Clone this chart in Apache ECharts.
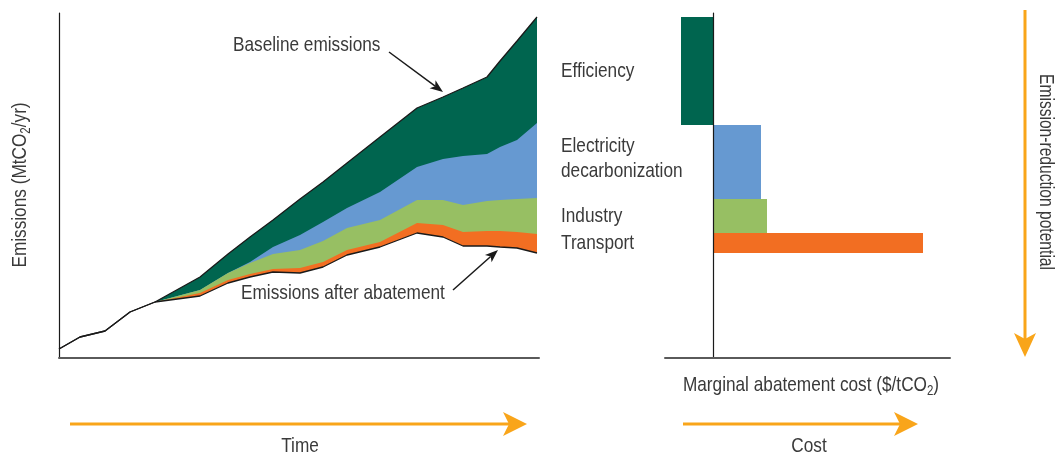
<!DOCTYPE html>
<html>
<head>
<meta charset="utf-8">
<script src="https://cdn.jsdelivr.net/npm/echarts@6/dist/echarts.min.js"></script>
<style>
  html, body { margin: 0; padding: 0; background: #fff; }
  #main { width: 1059px; height: 455px; }
</style>
</head>
<body>
<div id="main"></div>
<script>
// ---- left panel: emissions over time (arbitrary units)
var timeX       = [0, 21, 46, 71, 96, 141, 169, 191, 214, 241, 264, 288, 321, 358, 384, 404, 428, 441, 458, 478];
var baselineTop = [9, 21, 27, 46, 56, 81, 104, 121, 138, 159, 176, 195, 221, 250, 261, 270, 281, 297, 317, 341];
var elecTop     = [9, 21, 27, 46, 56, 68, 85, 96, 111, 123, 136, 150, 166, 191, 199, 202, 204, 211, 218, 235];
var industryTop = [9, 21, 27, 46, 56, 68, 85, 95, 104, 108, 117, 130, 138, 158, 158, 153, 157, 158, 159, 160];
var transTop    = [9, 21, 27, 46, 56, 65, 78, 84, 89, 90, 96, 108, 116, 135, 133, 126, 127, 127, 126, 124];
var afterAbate  = [9, 21, 27, 46, 56, 62, 75, 81, 86, 85, 91, 103, 111, 125, 121, 112, 112, 111, 110, 105];

// ---- right panel: marginal abatement cost curve
var measures  = ['Efficiency', 'Electricity\ndecarbonization', 'Industry', 'Transport'];
var macCost   = [-32, 48, 54, 210];
var potStart  = [4, 112, 186, 220];
var potEnd    = [112, 186, 220, 240];

var DARK = '#00654f', BLUE = '#6699d1', GREEN = '#97bf63', ORANGE = '#f26e22', ARROW = '#f9a51a';
var measureColors = [DARK, BLUE, GREEN, ORANGE];
var TXT = '#3a3a3a';
var FONT = "'Liberation Sans', Arial, sans-serif";
var FS = 21, NARROW = 0.82;   // condensed look: horizontal squeeze of the text

var chartDom = document.getElementById('main');
var myChart = echarts.init(chartDom);

function pairs(vals) {
  return timeX.map(function (x, i) { return [x, vals[i]]; });
}
function areaSeries(name, vals, fill, withLine) {
  return {
    name: name,
    type: 'line',
    xAxisIndex: 0,
    yAxisIndex: 0,
    data: pairs(vals),
    symbol: 'none',
    silent: true,
    lineStyle: withLine ? { color: '#1a1a1a', width: 1.3 } : { opacity: 0 },
    areaStyle: { color: fill, opacity: 1 }
  };
}
// arrow made of a line and a triangle head
function arrow(x1, y1, x2, y2, color, w, hl, hw) {
  var dx = x2 - x1, dy = y2 - y1, len = Math.sqrt(dx * dx + dy * dy);
  var ux = dx / len, uy = dy / len;
  var bx = x2 - ux * hl, by = y2 - uy * hl;
  var nx = x2 - ux * hl * 0.75, ny = y2 - uy * hl * 0.75;
  return [
    { type: 'line', silent: true, z: 100, shape: { x1: x1, y1: y1, x2: nx, y2: ny }, style: { stroke: color, lineWidth: w } },
    { type: 'polygon', silent: true, z: 100, shape: { points: [[x2, y2], [bx - uy * hw, by + ux * hw], [nx, ny], [bx + uy * hw, by - ux * hw]] }, style: { fill: color } }
  ];
}
function label(text, x, y, opt) {
  opt = opt || {};
  return {
    type: 'text', x: x, y: y, silent: true, z: 100,
    rotation: opt.rotation || 0,
    scaleX: opt.narrow || NARROW,
    style: {
      text: text, fill: TXT, fontSize: opt.size || FS, fontFamily: FONT,
      align: opt.align || 'center', verticalAlign: 'middle',
      rich: opt.rich
    }
  };
}
var subRich = {
  a: { fontSize: FS, fontFamily: FONT, color: TXT },
  s: { fontSize: 14, fontFamily: FONT, color: TXT, padding: [12, 0, 0, 0] }
};

var graphics = [];
graphics.push(label('{a|Emissions (MtCO}{s|2}{a|/yr)}', 20, 185, { rotation: Math.PI / 2, rich: subRich }));
graphics.push(label('Baseline emissions', 233, 45, { align: 'left' }));
graphics.push(label('Emissions after abatement', 241, 293, { align: 'left' }));
graphics.push(label('Time', 300, 446));
graphics.push(label('Cost', 809, 446));
graphics.push(label('{a|Marginal abatement cost ($/tCO}{s|2}{a|)}', 811, 385, { rich: subRich }));
graphics.push(label('Emission-reduction potential', 1046, 172, { rotation: -Math.PI / 2, size: 20, narrow: 0.78 }));
graphics = graphics
  .concat(arrow(389, 52, 443, 92, '#1a1a1a', 1.5, 13, 5))
  .concat(arrow(453, 290, 498, 250, '#1a1a1a', 1.5, 13, 5))
  .concat(arrow(70, 424, 527, 424, ARROW, 3, 24, 12))
  .concat(arrow(683, 424, 918, 424, ARROW, 3, 24, 12))
  .concat(arrow(1025, 10, 1025, 357, ARROW, 3, 24, 11));

var option = {
  animation: false,
  grid: [
    { left: 59, top: 13, width: 480, height: 345 },
    { left: 665, top: 13, width: 285, height: 345 }
  ],
  xAxis: [
    {
      type: 'value', gridIndex: 0, min: 0, max: 480, z: 5,
      axisLine: { onZero: false, lineStyle: { color: '#5a5a5a', width: 2 } },
      axisTick: { show: false }, axisLabel: { show: false }, splitLine: { show: false }
    },
    {
      type: 'value', gridIndex: 1, min: -48, max: 237, z: 5,
      axisLine: { onZero: false, lineStyle: { color: '#5a5a5a', width: 2 } },
      axisTick: { show: false }, axisLabel: { show: false }, splitLine: { show: false }
    }
  ],
  yAxis: [
    {
      type: 'value', gridIndex: 0, min: 0, max: 345, z: 5,
      axisLine: { show: true, onZero: false, lineStyle: { color: '#1a1a1a', width: 1.2 } },
      axisTick: { show: false }, axisLabel: { show: false }, splitLine: { show: false }
    },
    {
      type: 'value', gridIndex: 1, min: 0, max: 345, inverse: true, z: 5,
      axisLine: { show: true, onZero: true, lineStyle: { color: '#1a1a1a', width: 1.2 } },
      axisTick: { show: false }, axisLabel: { show: false }, splitLine: { show: false }
    }
  ],
  series: [
    areaSeries('Baseline emissions', baselineTop, DARK, true),
    areaSeries('Electricity decarbonization', elecTop, BLUE, false),
    areaSeries('Industry', industryTop, GREEN, false),
    areaSeries('Transport', transTop, ORANGE, false),
    areaSeries('Emissions after abatement', afterAbate, '#ffffff', true),
    {
      type: 'custom',
      xAxisIndex: 1,
      yAxisIndex: 1,
      silent: true,
      data: measures.map(function (m, i) { return [macCost[i], potStart[i], potEnd[i]]; }),
      encode: { x: 0, y: [1, 2] },
      renderItem: function (params, api) {
        var i = params.dataIndex;
        var c = api.value(0), s = api.value(1), e = api.value(2);
        var p0 = api.coord([0, s]);
        var p1 = api.coord([c, e]);
        var lab = api.coord([-48, (s + e) / 2]);
        return {
          type: 'group',
          children: [
            {
              type: 'rect',
              shape: { x: Math.min(p0[0], p1[0]), y: p0[1], width: Math.abs(p1[0] - p0[0]), height: p1[1] - p0[1] },
              style: { fill: measureColors[i] }
            },
            {
              type: 'text',
              x: lab[0] - 104,
              y: lab[1] - (i === 1 ? 3 : 0),
              scaleX: NARROW,
              style: {
                text: measures[i], fill: TXT, fontSize: FS, fontFamily: FONT,
                lineHeight: 25, align: 'left', verticalAlign: 'middle'
              }
            }
          ]
        };
      }
    }
  ],
  graphic: graphics
};

option && myChart.setOption(option);
</script>
</body>
</html>
